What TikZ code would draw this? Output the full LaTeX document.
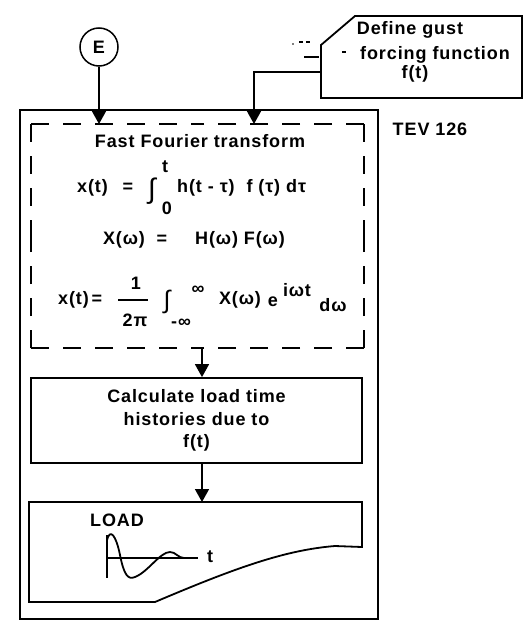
\documentclass[tikz,border=0pt]{standalone}
\usepackage{fontspec}
\setmainfont{Liberation Sans}[LetterSpace=5]
\usetikzlibrary{arrows.meta}
\begin{document}
\begin{tikzpicture}[x=1pt,y=-1pt,
  txt/.style={font=\fontsize{18}{22.5}\selectfont\bfseries, inner sep=0pt},
  bigint/.style={font=\fontsize{28}{28}\selectfont, inner sep=0pt},
  midint/.style={font=\fontsize{25}{25}\selectfont, inner sep=0pt},
  arr/.style={line width=1.5pt, -{Triangle[width=14pt,length=13pt]}},
  frame/.style={line width=1.8pt},
  dsh/.style={line width=1.8pt, dash pattern=on 18pt off 14pt},
  noise/.style={line width=1.2pt}
]
\useasboundingbox (0,0) rectangle (528,629);

% entry circle
\node[circle, draw, line width=1.5pt, minimum size=38pt, txt] (E) at (99,47) {E};
\coordinate (inE) at (99,124);
\draw[arr] (E.south) -- (inE);

% gust box
\coordinate (g1) at (321,45);
\coordinate (g2) at (355,16);
\coordinate (g3) at (522,16);
\coordinate (g4) at (522,98);
\coordinate (g5) at (321,98);
\draw[frame, line join=miter] (g1) -- (g2) -- (g3) -- (g4) -- (g5) -- cycle;
\node[txt] (gt1) at (410,30) {Define gust};
\node[txt] (gt2) at (435,55) {forcing function};
\node[txt] (gt3) at (415,74) {f(t)};
\coordinate (gL) at (321,72);
\coordinate (inG) at (254,124);
\draw[arr] (gL) -- (gL -| inG) -- (inG);
% scan marks
\draw[noise] (299,42) -- (303,42) (306,42) -- (310,42) (304,57) -- (319,57) (342,52) -- (346,52);
\fill (293,44) circle (0.8pt);

% outer frame
\draw[frame] (20,110) rectangle (378,619);
\node[txt] (tev) at (430,129) {TEV 126};

% dashed FFT box
\draw[dsh] (31,124) -- (197.5,124);
\draw[dsh] (364,124) -- (197.5,124);
\draw[dsh] (364,124) -- (364,236);
\draw[dsh] (364,348) -- (364,236);
\draw[dsh] (364,348) -- (197.5,348);
\draw[dsh] (31,348) -- (197.5,348);
\draw[dsh] (31,348) -- (31,236);
\draw[dsh] (31,124) -- (31,236);

\node[txt] (fft) at (200,141) {Fast Fourier transform};
% eq 1
\node[txt, anchor=west] (e1a) at (77,188) {x(t)};
\node[txt] (e1eq) at (128,188) {=};
\node[bigint] (e1int) at (152,191) {∫};
\node[txt] (e1up) at (165,167) {t};
\node[txt] (e1lo) at (167,208) {0};
\node[txt, anchor=west] (e1b) at (177,188) {h(t - τ)\ \ f (τ) dτ};
% eq 2
\node[txt] (e2a) at (124,240) {X(ω)};
\node[txt] (e2eq) at (162,240) {=};
\node[txt] (e2b) at (240,240) {H(ω) F(ω)};
% eq 3
\node[txt, anchor=west] (e3a) at (58,300) {x(t)};
\node[txt] (e3eq) at (97,300) {=};
\node[txt] (e3n) at (136,283) {1};
\draw[line width=1.2pt] (118,300) -- (148,300);
\node[txt] (e3d) at (135,320) {2π};
\node[midint] (e3int) at (167,302) {∫};
\node[txt] (e3up) at (198,290) {∞};
\node[txt] (e3lo) at (181,323) {-∞};
\node[txt] (e3X) at (240,300) {X(ω)};
\node[txt] (e3e) at (273,302) {e};
\node[txt] (e3s) at (297,290) {iωt};
\node[txt] (e3dw) at (333,305) {dω};

% calc box
\node[draw, frame, txt, align=center, minimum width=331pt, minimum height=85pt] (calc) at (196.5,420.5)
  {Calculate load time\\histories due to\\f(t)};
\coordinate (dB) at (202,348);
\draw[arr] (dB) -- (calc.north -| dB);

% load box
\coordinate (ldT) at (202,502);
\draw[arr] (calc.south -| dB) -- (ldT);
\draw[frame, line join=miter] (29,502) -- (362,502) -- (362,547) -- (335,546)
  .. controls (285,550) and (235,568) .. (155,602) -- (29,602) -- cycle;
\node[txt] (load) at (117,520) {LOAD};
\draw[line width=1.3pt] (107,535) -- (107,578);
\draw[line width=1.3pt] (107,558) -- (198,558);
\draw[line width=2.6pt] (178,558) -- (197,558);
\draw[line width=1.8pt] (107,540) .. controls (110,528) and (116,535) .. (120,555)
  .. controls (124,575) and (128,580) .. (135,577)
  .. controls (148,572) and (160,552) .. (170,552)
  .. controls (176,552) and (178,558) .. (184,558);
\node[txt] (tax) at (210,557) {t};
\end{tikzpicture}
\end{document}
